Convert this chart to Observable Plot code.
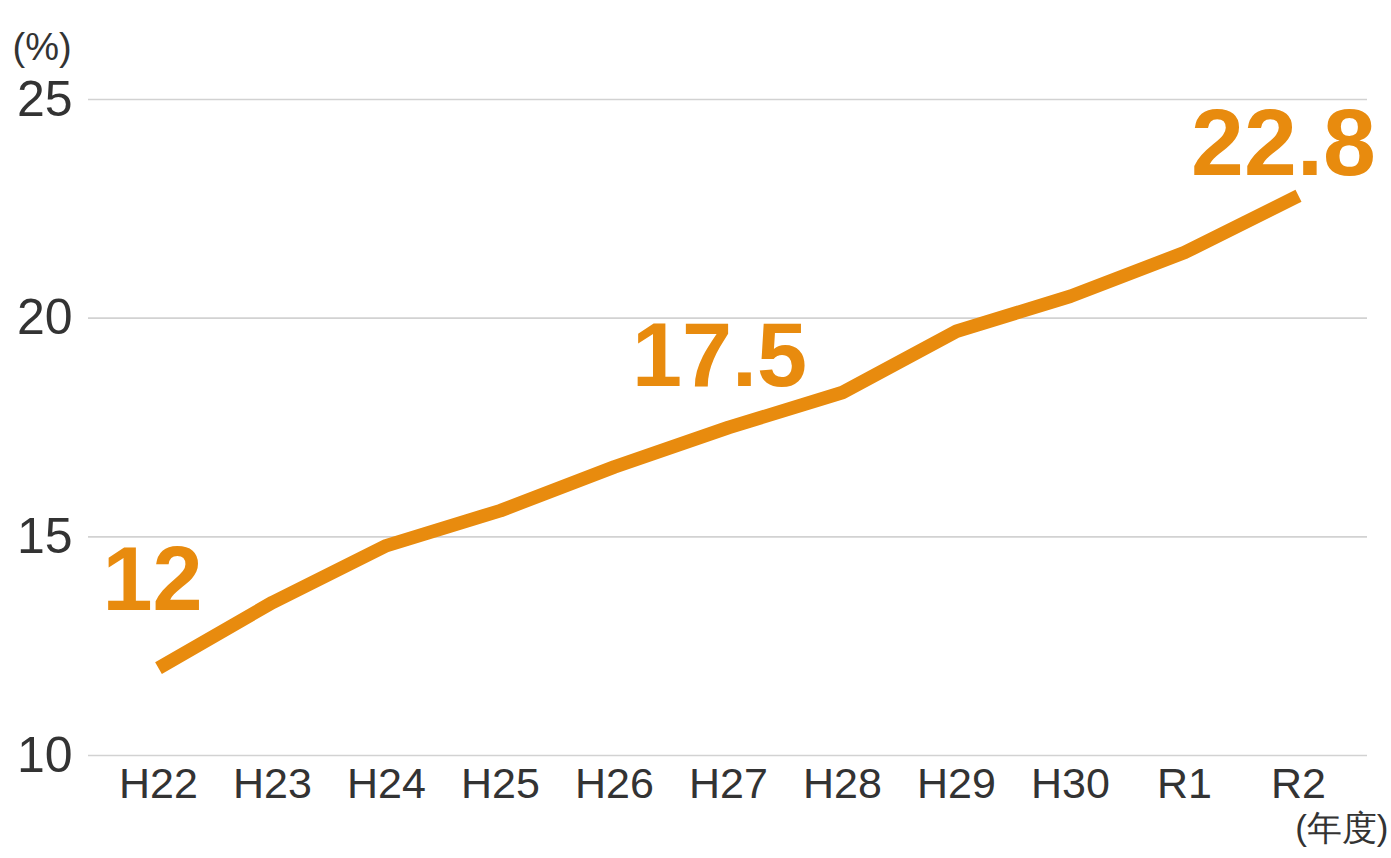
<!DOCTYPE html>
<html>
<head>
<meta charset="utf-8">
<script src="https://cdn.jsdelivr.net/npm/d3@7"></script>
<script src="https://cdn.jsdelivr.net/npm/@observablehq/plot@0.6"></script>
<style>
  html, body { margin: 0; padding: 0; background: #fff; }
  #chart svg { display: block; }
</style>
</head>
<body>
<div id="chart"></div>
<script>
const years = ["H22", "H23", "H24", "H25", "H26", "H27", "H28", "H29", "H30", "R1", "R2"];
const rates = [12.0, 13.5, 14.8, 15.6, 16.6, 17.5, 18.3, 19.7, 20.5, 21.5, 22.8];
const yTicks = [10, 15, 20, 25];
const yUnit = "(%)";
const xUnit = "(年度)";

const data = years.map((y, i) => ({ year: y, value: rates[i] }));
const orange = "#e88b0e";
const font = "'Liberation Sans', Arial, sans-serif";

const pick = (yr) => data.filter(d => d.year === yr);

const chart = Plot.plot({
  width: 1391,
  height: 858,
  marginLeft: 88,
  marginRight: 24,
  marginTop: 99,
  marginBottom: 103,
  style: { fontFamily: font, background: "#fff" },
  x: { type: "point", domain: years, padding: 0.59, label: null },
  y: { domain: [10, 25], label: null },
  marks: [
    Plot.gridY(yTicks, { stroke: "#d2d2d2", strokeOpacity: 1, strokeWidth: 1.6 }),
    Plot.axisY({ ticks: yTicks, tickSize: 0, tickPadding: 16, fontSize: 50, label: null, color: "#333", tickFormat: d => String(d) }),
    Plot.axisX({ tickSize: 0, tickPadding: 12, fontSize: 43, label: null, color: "#333" }),
    Plot.line(data, { x: "year", y: "value", stroke: orange, strokeWidth: 13.5, strokeLinecap: "butt", strokeLinejoin: "round" }),
    Plot.text(pick("H22"), { x: "year", y: "value", text: d => String(d.value), fill: orange, fontSize: 90, fontWeight: "bold", dy: -87, dx: -6, textAnchor: "middle" }),
    Plot.text(pick("H27"), { x: "year", y: "value", text: d => d.value.toFixed(1), fill: orange, fontSize: 90, fontWeight: "bold", dy: -70, dx: -9, textAnchor: "middle" }),
    Plot.text(pick("R2"), { x: "year", y: "value", text: d => d.value.toFixed(1), fill: orange, fontSize: 95, fontWeight: "bold", dy: -51, dx: -15, textAnchor: "middle" }),
    Plot.text([yUnit], { frameAnchor: "top-left", text: d => d, dx: -76, dy: -66, fontSize: 38, fill: "#333", textAnchor: "start" }),
    Plot.text([xUnit], { frameAnchor: "bottom-right", text: d => d, dx: 21, dy: 84, fontSize: 35, fill: "#333", textAnchor: "end" })
  ]
});
document.getElementById("chart").appendChild(chart);
</script>
</body>
</html>
